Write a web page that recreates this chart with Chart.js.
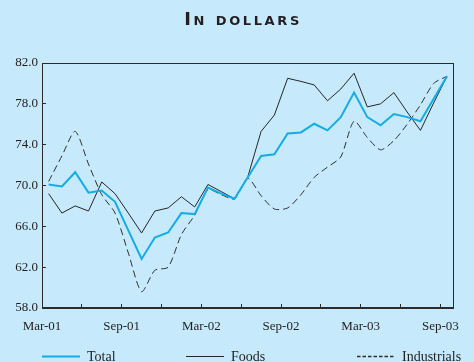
<!DOCTYPE html>
<html>
<head>
<meta charset="utf-8">
<script src="https://cdn.jsdelivr.net/npm/chart.js@4.4.1/dist/chart.umd.min.js"></script>
<style>
  html, body { margin: 0; padding: 0; background: #c6e9fb; }
  #wrap { position: relative; width: 474px; height: 362px; }
  #title {
    position: absolute; top: 10px; left: 0; width: 474px;
    padding-left: 12px; box-sizing: border-box; text-align: center;
    font: bold 18px/18px "DejaVu Sans"; font-variant: small-caps;
    letter-spacing: 2.6px; color: #231f20;
  }
  canvas { position: absolute; left: 0; top: 0; }
</style>
</head>
<body>
<div id="wrap">
  <canvas id="chart" width="474" height="362"></canvas>
  <div id="title">In dollars</div>
</div>
<script>
// Monthly prices, Mar-01 to Sep-03
var months = ['Mar-01', 'Apr-01', 'May-01', 'Jun-01', 'Jul-01', 'Aug-01', 'Sep-01', 'Oct-01',
  'Nov-01', 'Dec-01', 'Jan-02', 'Feb-02', 'Mar-02', 'Apr-02', 'May-02', 'Jun-02', 'Jul-02',
  'Aug-02', 'Sep-02', 'Oct-02', 'Nov-02', 'Dec-02', 'Jan-03', 'Feb-03', 'Mar-03', 'Apr-03',
  'May-03', 'Jun-03', 'Jul-03', 'Aug-03', 'Sep-03'];

var total = [70.1, 69.9, 71.3, 69.3, 69.5, 68.4, 65.6, 62.8, 64.9, 65.4, 67.3, 67.2, 69.8,
  69.2, 68.7, 70.8, 72.9, 73.05, 75.1, 75.2, 76.05, 75.4, 76.7, 79.1, 76.7, 75.9, 77.0,
  76.7, 76.3, 78.5, 80.7];

var foods = [69.2, 67.3, 68.0, 67.5, 70.35, 69.2, 67.3, 65.35, 67.5, 67.8, 68.9, 67.9, 70.1,
  69.4, 68.7, 70.85, 75.3, 76.9, 80.5, 80.2, 79.85, 78.3, 79.45, 81.0, 77.7, 78.0, 79.1,
  77.2, 75.4, 78.1, 80.7];

var industrials = [70.4, 72.9, 75.3, 72.1, 69.1, 67.3, 63.4, 59.6, 61.7, 62.0, 65.2, 67.1,
  69.6, 69.1, 68.7, 70.7, 69.0, 67.7, 67.8, 69.1, 70.8, 71.8, 72.8, 76.3, 74.7, 73.5, 74.4,
  76.0, 77.9, 80.0, 80.7];

var xTickLabels = ['Mar-01', 'Sep-01', 'Mar-02', 'Sep-02', 'Mar-03', 'Sep-03'];
var yTicks = [58, 62, 66, 70, 74, 78, 82];

var axisColor = '#2b2b2b';
var serif = '"Liberation Serif", "Times New Roman", serif';

function points(values) {
  return values.map(function (v, i) { return { x: i, y: v }; });
}

// closes the plot box and draws the legend row under the axis
var frameAndLegend = {
  id: 'frameAndLegend',
  afterDraw: function (chart) {
    var ctx = chart.ctx;
    var a = chart.chartArea;
    ctx.save();
    ctx.strokeStyle = axisColor;
    ctx.lineWidth = 1;
    ctx.strokeRect(Math.round(a.left) + 0.5, Math.round(a.top) + 0.5,
      Math.round(a.right - a.left) - 1, Math.round(a.bottom - a.top) - 1);

    var items = [
      { ds: 0, x: 42, dash: [] },
      { ds: 1, x: 186, dash: [] },
      { ds: 2, x: 357, dash: [3.5, 2] }
    ];
    var y = 356.5;
    ctx.font = '14px ' + serif;
    ctx.textBaseline = 'middle';
    ctx.fillStyle = '#1f1f1f';
    items.forEach(function (it) {
      var ds = chart.data.datasets[it.ds];
      ctx.beginPath();
      ctx.setLineDash(it.dash);
      ctx.strokeStyle = ds.borderColor;
      ctx.lineWidth = it.ds === 2 ? 1.5 : ds.borderWidth;
      ctx.moveTo(it.x, y);
      ctx.lineTo(it.x + 38, y);
      ctx.stroke();
      ctx.fillText(ds.label, it.x + 45, y + 1);
    });
    ctx.restore();
  }
};

new Chart(document.getElementById('chart'), {
  type: 'line',
  data: {
    datasets: [
      {
        label: 'Total',
        data: points(total),
        borderColor: '#14ace8',
        borderWidth: 2,
        pointRadius: 0,
        tension: 0
      },
      {
        label: 'Foods',
        data: points(foods),
        borderColor: '#262626',
        borderWidth: 1,
        pointRadius: 0,
        tension: 0
      },
      {
        label: 'Industrials',
        data: points(industrials),
        borderColor: '#2e2e2e',
        borderWidth: 1,
        borderDash: [7, 4],
        pointRadius: 0,
        tension: 0.25
      }
    ]
  },
  options: {
    responsive: false,
    animation: false,
    layout: { padding: { top: 63, right: 7, bottom: 0, left: 0 } },
    plugins: {
      legend: { display: false },
      tooltip: { enabled: false }
    },
    scales: {
      x: {
        type: 'linear',
        min: -0.5,
        max: months.length - 0.5,
        afterBuildTicks: function (scale) {
          var ticks = [];
          for (var k = 0; k < months.length; k += 3) ticks.push({ value: k - 0.5 });
          scale.ticks = ticks;
        },
        afterFit: function (scale) { scale.height = 54; },
        grid: { drawOnChartArea: false, tickLength: -4, color: axisColor },
        border: { color: axisColor },
        ticks: {
          autoSkip: false,
          maxRotation: 0,
          padding: 15,
          color: '#1f1f1f',
          font: { family: serif, size: 13 },
          callback: function (value) {
            var label = months[value + 0.5];
            return xTickLabels.indexOf(label) >= 0 ? label : '';
          }
        }
      },
      y: {
        min: yTicks[0],
        max: yTicks[yTicks.length - 1],
        afterBuildTicks: function (scale) {
          scale.ticks = yTicks.map(function (v) { return { value: v }; });
        },
        afterFit: function (scale) { scale.width = 42; },
        grid: { drawOnChartArea: false, tickLength: -4, color: axisColor },
        border: { color: axisColor },
        ticks: {
          padding: 8,
          color: '#1f1f1f',
          font: { family: serif, size: 13 },
          callback: function (v) { return v.toFixed(1); }
        }
      }
    }
  },
  plugins: [frameAndLegend]
});
</script>
</body>
</html>
